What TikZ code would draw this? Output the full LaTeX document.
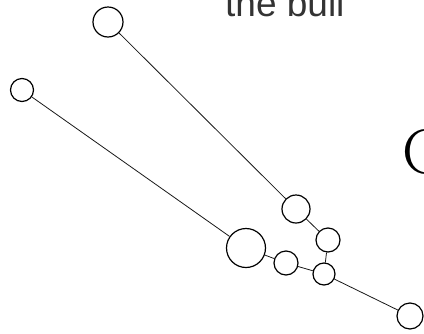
\documentclass[tikz,border=0pt]{standalone}
\usepackage{fontspec}
\newfontfamily\bullfont{Liberation Sans}
\usetikzlibrary{positioning}
\tikzset{
  ring/.style={circle, draw=black, line width=1.2pt, inner sep=0pt},
  stem/.style={draw=black!90, line width=0.8pt}
}
\begin{document}
\begin{tikzpicture}[x=1pt, y=-1pt]
      \useasboundingbox (0,0) rectangle (424,333);
      \node[ring, minimum size=30pt] (top) at (108,22) {};
      \node[ring, minimum size=23pt] (left) at (22,90) {};
      \node[ring, minimum size=39pt] (hub) at (246,248) {};
      \node[ring, minimum size=28pt] (upper) at (296,209) {};
      \node[ring, minimum size=24pt] (mid) at (328,240) {};
      \node[ring, minimum size=24pt] (low) at (286,263) {};
      \node[ring, minimum size=22pt] (joint) at (324,274) {};
      \node[ring, minimum size=26pt] (tail) at (410,316) {};
      \draw[stem] (top) -- (upper);
      \draw[stem] (left) -- (hub);
      \draw[stem] (hub) -- (low);
      \draw[stem] (low) -- (joint);
      \draw[stem] (upper) -- (mid);
      \draw[stem] (mid) -- (joint);
      \draw[stem] (joint) -- (tail);
      \node[anchor=base west, inner sep=0pt, text=black!80,
            font=\bullfont\fontsize{37}{37}\selectfont] (caption) at (225,16) {the bull};
      \node[anchor=base west, inner sep=0pt,
            font=\fontsize{63}{63}\selectfont] (letter) at (402,173) {C};
    \end{tikzpicture}
\end{document}
